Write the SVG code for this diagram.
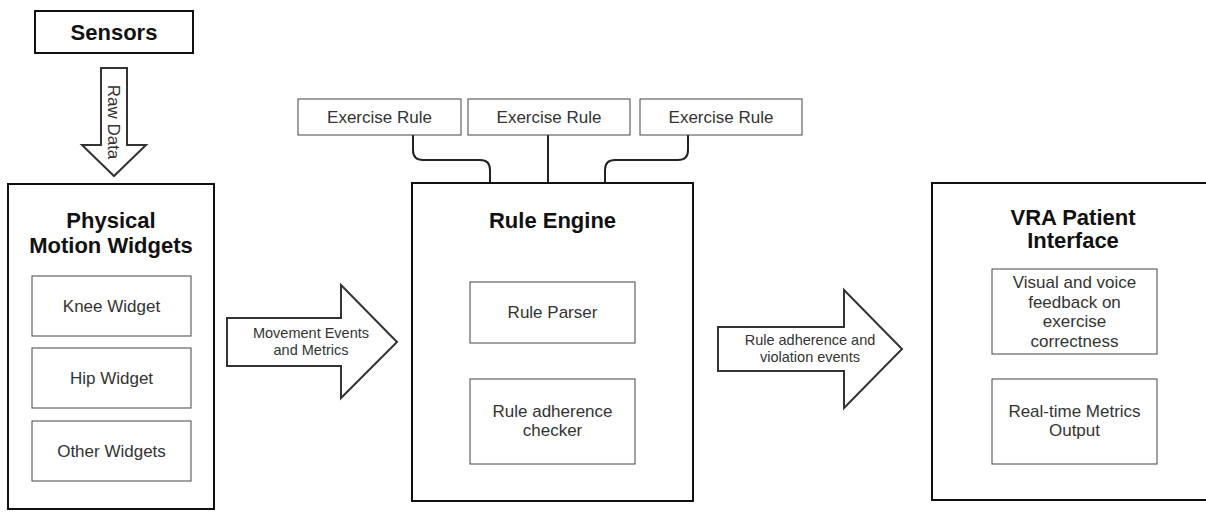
<svg xmlns="http://www.w3.org/2000/svg" width="1206" height="512" viewBox="0 0 1206 512">
<style>
.outer{fill:#fff;stroke:#111;stroke-width:2}
.inner{fill:#fff;stroke:#444;stroke-width:1}
.arrow{fill:#fff;stroke:#333;stroke-width:2;stroke-linejoin:miter}
.conn{fill:none;stroke:#222;stroke-width:2}
.title{font-family:"Liberation Sans",Arial,sans-serif;font-weight:bold;font-size:22px;fill:#111;text-anchor:middle}
.txt{font-family:"Liberation Sans",Arial,sans-serif;font-size:17px;fill:#333;text-anchor:middle}
.lbl{font-family:"Liberation Sans",Arial,sans-serif;font-size:14.5px;fill:#333;text-anchor:middle}
</style>
<rect width="1206" height="512" fill="#fff"/>
<g id="connectors">
<path class="conn" d="M413,135 V150 Q413,160 423,160 H480 Q490,160 490,170 V183"/>
<path class="conn" d="M548,135 V183"/>
<path class="conn" d="M688,135 V150 Q688,160 678,160 H615 Q605,160 605,170 V183"/>
<g id="raw-data">
<path class="arrow" d="M101,68 H127 V145 H146 L114,176 L82,145 H101 Z"/>
<text class="txt" transform="translate(108,122) rotate(90)">Raw Data</text>
</g>
<g id="movement-events">
<path class="arrow" d="M227,318 H341 V285 L397,342 L341,398 V366 H227 Z"/>
<text class="lbl" x="311" y="338">Movement Events</text>
<text class="lbl" x="311" y="355">and Metrics</text>
</g>
<g id="rule-events">
<path class="arrow" d="M718,327 H844 V290 L902,349 L844,408 V371 H718 Z"/>
<text class="lbl" x="810" y="345">Rule adherence and</text>
<text class="lbl" x="810" y="362">violation events</text>
</g>
</g>
<g id="sensors">
<rect class="outer" x="35" y="11" width="158" height="42"/>
<text class="title" x="114" y="40">Sensors</text>
</g>
<g id="physical-motion-widgets">
<rect class="outer" x="8" y="184" width="206" height="325"/>
<text class="title" x="111" y="228">Physical</text>
<text class="title" x="111" y="253">Motion Widgets</text>
</g>
<g id="knee-widget">
<rect class="inner" x="32" y="276" width="159" height="60"/>
<text class="txt" x="111.5" y="312">Knee Widget</text>
</g>
<g id="hip-widget">
<rect class="inner" x="32" y="348" width="159" height="60"/>
<text class="txt" x="111.5" y="384">Hip Widget</text>
</g>
<g id="other-widgets">
<rect class="inner" x="32" y="421" width="159" height="60"/>
<text class="txt" x="111.5" y="457">Other Widgets</text>
</g>
<g id="exercise-rule-1">
<rect class="inner" x="298" y="99" width="163" height="36"/>
<text class="txt" x="379.5" y="123">Exercise Rule</text>
</g>
<g id="exercise-rule-2">
<rect class="inner" x="468" y="99" width="162" height="36"/>
<text class="txt" x="549" y="123">Exercise Rule</text>
</g>
<g id="exercise-rule-3">
<rect class="inner" x="640" y="99" width="162" height="36"/>
<text class="txt" x="721" y="123">Exercise Rule</text>
</g>
<g id="rule-engine">
<rect class="outer" x="412" y="183" width="281" height="318"/>
<text class="title" x="552.5" y="228">Rule Engine</text>
</g>
<g id="rule-parser">
<rect class="inner" x="470" y="282" width="165" height="61"/>
<text class="txt" x="552.5" y="318">Rule Parser</text>
</g>
<g id="rule-adherence-checker">
<rect class="inner" x="470" y="379" width="165" height="85"/>
<text class="txt" x="552.5" y="417">Rule adherence</text>
<text class="txt" x="552.5" y="436">checker</text>
</g>
<g id="vra-patient-interface">
<rect class="outer" x="932" y="183" width="284" height="317"/>
<text class="title" x="1073" y="225">VRA Patient</text>
<text class="title" x="1073" y="248">Interface</text>
</g>
<g id="feedback">
<rect class="inner" x="992" y="269" width="165" height="85"/>
<text class="txt" x="1074.5" y="288">Visual and voice</text>
<text class="txt" x="1074.5" y="308">feedback on</text>
<text class="txt" x="1074.5" y="327">exercise</text>
<text class="txt" x="1074.5" y="347">correctness</text>
</g>
<g id="metrics-output">
<rect class="inner" x="992" y="379" width="165" height="85"/>
<text class="txt" x="1074.5" y="417">Real-time Metrics</text>
<text class="txt" x="1074.5" y="436">Output</text>
</g>
</svg>
